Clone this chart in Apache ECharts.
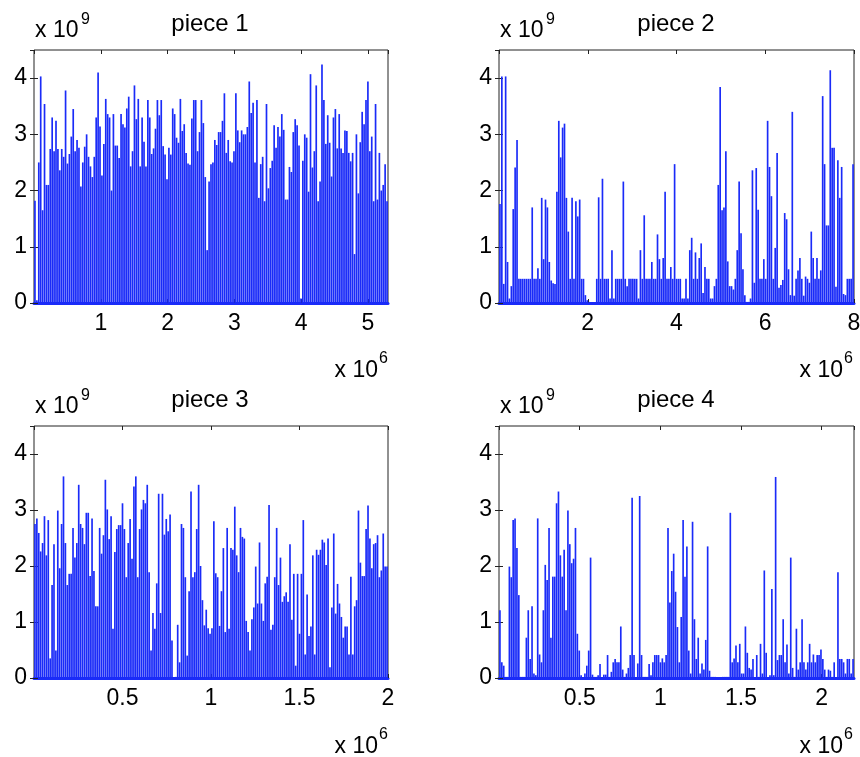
<!DOCTYPE html>
<html>
<head>
<meta charset="utf-8">
<script src="https://cdn.jsdelivr.net/npm/echarts@6/dist/echarts.min.js"></script>
<style>
html, body { margin: 0; padding: 0; background: #fff; }
#main { width: 860px; height: 757px; }
</style>
</head>
<body>
<div id="main"></div>
<script>
// bin heights, units of 1e9 (one entry per bin, read left to right)
var piece1 = [1.82, 0.05, 2.5, 4.03, 1.65, 3.54, 2.1, 2.1, 2.74, 3.3, 2.7, 3.24, 2.74, 2.36, 2.74, 2.6, 3.78, 2.48, 2.65, 2.96,
  3.45, 2.7, 2.9, 2.76, 2.07, 2.5, 2.78, 3.0, 2.6, 2.43, 2.24, 2.6, 3.3, 4.1, 3.14, 2.27, 2.83, 3.63, 3.36, 3.3,
  2.0, 3.36, 2.8, 2.8, 2.58, 3.36, 3.18, 3.12, 3.46, 3.67, 2.43, 2.7, 3.87, 3.27, 3.63, 2.43, 3.3, 2.87, 2.43, 3.61,
  3.3, 2.65, 2.75, 3.1, 3.61, 3.34, 3.61, 2.79, 2.64, 2.2, 2.76, 2.64, 3.46, 3.36, 2.94, 2.85, 3.63, 3.06, 3.18, 2.67,
  2.48, 2.46, 3.28, 3.61, 3.61, 2.7, 3.04, 3.61, 3.2, 2.24, 0.94, 2.16, 2.47, 2.5, 2.9,
  2.81, 3.04, 3.04, 3.24, 3.73, 2.67, 2.9, 2.52, 2.5, 2.7, 3.73, 3.07, 2.86, 3.07, 3.0, 3.0, 3.13, 3.94, 3.38, 3.56,
  2.5, 3.61, 1.87, 2.47, 2.6, 1.81, 3.54, 2.04, 2.4, 2.53, 3.16, 2.76, 3.13, 2.96, 3.36, 3.08, 1.84, 1.84, 2.42, 2.33,
  3.04, 3.27, 3.16, 2.8, 0.08, 2.53, 3.0, 2.94, 1.98, 4.07, 2.41, 2.7, 3.87, 1.81, 2.16, 4.24, 3.61, 2.83, 3.34, 2.85,
  2.25, 3.3, 3.45, 2.75, 3.36, 2.75, 2.67, 3.07, 3.06, 2.67, 2.52, 2.67, 0.87, 3.0, 1.95, 2.86, 3.4, 3.18, 3.61, 3.94,
  2.7, 2.96, 1.81, 3.54, 1.84, 2.67, 2.0, 2.1, 2.47, 1.81];

var piece2 = [1.76, 4.03, 0.34, 4.03, 0.73, 0.08, 0.3, 1.67, 2.41, 2.9, 0.43, 0.43, 0.43, 0.43, 0.43, 0.43, 0.43, 1.7, 0.43, 0.43,
  0.62, 0.43, 1.87, 0.78, 1.84, 1.7, 0.73, 0.4, 0.35, 0.34, 1.98, 3.24, 2.59, 3.12, 3.19, 1.87, 1.27, 0.43, 1.87, 0.43,
  1.81, 1.54, 1.84, 0.43, 0.43, 0.14, 0.05, 0.02, 0.02, 0.02, 0.02, 0.43, 1.88, 0.43, 2.21, 0.43, 0.43, 0.43, 0.08, 0.94,
  0.08, 0.43, 0.43, 0.43, 0.43, 2.16, 0.43, 0.3, 0.43, 0.43, 0.43, 0.43, 0.43, 0.08, 0.94, 0.43, 1.56, 0.43, 0.43, 0.43,
  0.73, 0.43, 0.43, 1.22, 0.78, 0.43, 0.8, 1.98, 0.43, 0.43, 0.64, 0.43, 2.47, 0.43,
  0.43, 0.43, 0.08, 0.08, 0.43, 0.08, 0.94, 1.16, 0.43, 0.9, 0.43, 0.8, 1.06, 0.18, 0.64, 0.43, 0.43, 0.08, 0.08, 0.3,
  0.43, 2.1, 3.84, 1.65, 1.7, 2.7, 0.74, 0.3, 0.3, 0.24, 0.43, 0.94, 2.16, 1.24, 0.6, 0.14, 0.02, 0.02, 0.08, 2.36,
  0.36, 2.4, 1.66, 0.43, 0.43, 0.78, 0.43, 3.24, 2.42, 1.9, 0.43, 0.98, 2.67, 0.27, 0.32, 0.41, 1.6, 1.49, 0.6, 0.14,
  3.4, 0.13, 0.43, 0.58, 0.8, 0.43, 0.13, 0.47, 0.43, 0.36, 1.27, 0.8, 0.43, 0.8, 0.43, 0.58, 3.68, 2.47, 1.38, 1.38,
  4.14, 2.76, 2.76, 0.29, 2.54, 1.87, 2.42, 0.16, 0.14, 0.43, 0.43, 0.43, 2.47];

var piece3 = [2.75, 2.85, 2.59, 2.26, 2.41, 2.89, 2.19, 2.82, 0.35, 1.66, 2.39, 0.49, 2.99, 1.96, 2.75, 3.6, 2.41, 1.66, 1.86, 1.86,
  2.68, 2.15, 2.41, 3.45, 2.75, 2.68, 2.39, 2.95, 2.95, 1.82, 2.85, 1.91, 1.28, 1.28, 2.68, 2.22, 2.55, 3.54, 3.01, 2.48,
  2.89, 0.88, 2.25, 2.66, 2.73, 2.73, 3.12, 2.66, 1.8, 2.41, 2.84, 2.13, 3.42, 3.6, 1.8, 2.66, 3.01, 3.18, 3.12, 3.45,
  1.89, 0.49, 1.16, 0.88, 1.69, 3.29, 1.16, 3.29, 2.56, 2.84, 2.62, 2.92, 0.67, 0.02, 0.02, 0.95, 0.28, 2.75, 2.68, 1.8,
  0.4, 1.55, 3.33, 1.8, 1.89, 2.66, 3.45, 2.0, 1.39, 0.94, 1.22, 0.89, 0.79, 0.89,
  2.8, 1.87, 1.8, 0.93, 1.55, 2.32, 0.82, 2.68, 0.88, 2.32, 2.29, 3.06, 2.19, 1.89, 2.68, 2.52, 2.49, 1.02, 0.82, 0.49,
  1.05, 1.26, 1.99, 1.33, 2.42, 1.33, 1.02, 1.69, 1.81, 3.09, 0.86, 0.95, 1.8, 2.68, 1.66, 2.15, 1.36, 1.46, 1.53, 1.36,
  2.39, 1.04, 1.86, 0.22, 1.86, 0.79, 1.86, 2.82, 0.42, 1.49, 0.75, 0.92, 2.19, 0.42, 2.29, 2.2, 2.29, 2.47, 2.42, 2.02,
  2.49, 0.19, 1.26, 2.58, 1.15, 1.68, 1.33, 1.09, 0.72, 0.92, 0.92, 0.42, 1.81, 0.42, 1.28, 1.39, 2.99, 2.06, 1.82, 1.82,
  2.66, 3.08, 2.49, 1.96, 2.39, 2.41, 2.55, 1.8, 1.92, 2.58, 1.99, 1.99];

var piece4 = [1.21, 0.28, 0.22, 0.02, 0.02, 1.99, 1.8, 2.82, 2.85, 2.32, 1.48, 0.02, 0.02, 0.02, 0.72, 1.21, 0.34, 1.28, 0.08, 0.05,
  2.85, 0.42, 0.28, 1.21, 2.02, 1.75, 2.68, 0.72, 1.81, 1.81, 3.12, 3.33, 2.19, 1.81, 2.29, 1.21, 2.99, 2.39, 2.05, 2.13,
  2.68, 0.79, 0.49, 0.05, 0.02, 0.08, 0.22, 0.49, 2.15, 0.06, 0.02, 0.02, 0.05, 0.25, 0.02, 0.06, 0.06, 0.41, 0.02, 0.11,
  0.28, 0.34, 0.28, 0.28, 0.92, 0.15, 0.02, 0.08, 0.18, 0.41, 3.22, 0.41, 0.02, 0.26, 3.25, 0.41, 0.02, 0.02, 0.02, 0.25,
  0.05, 0.28, 0.41, 0.41, 0.41, 0.28, 0.35, 0.28, 0.41, 2.68, 1.35, 1.91, 2.22, 1.54, 0.91,
  0.28, 1.09, 2.82, 1.81, 2.35, 0.49, 0.08, 2.79, 1.05, 0.34, 0.72, 0.08, 0.26, 0.15, 0.68, 2.35, 0.13, 0.02, 0.02, 0.02,
  0.02, 0.02, 0.02, 0.02, 0.02, 0.02, 0.02, 2.95, 0.28, 0.35, 0.58, 0.28, 0.61, 0.08, 0.08, 0.92, 0.45, 0.18, 0.15, 0.34,
  0.02, 0.41, 0.02, 0.61, 0.08, 1.92, 0.45, 0.02, 0.05, 1.59, 0.05, 3.59, 0.32, 0.41, 0.41, 1.05, 0.28, 0.6, 0.08, 2.15,
  0.18, 0.02, 0.88, 0.15, 0.28, 1.05, 0.28, 0.15, 0.28, 0.61, 0.28, 0.42, 0.28, 0.41, 0.41, 0.51, 0.34, 0.15, 0.02, 0.15,
  0.13, 0.02, 0.28, 0.02, 1.89, 0.34, 0.34, 0.28, 0.08, 0.34, 0.34, 0.08, 0.34];

var titles = ['piece 1', 'piece 2', 'piece 3', 'piece 4'];
// x range in units of 1e6 and the tick step
var xMax = [5.3, 8, 2, 2.2];
var xStep = [1, 2, 0.5, 0.5];
var yMax = 4.5;
var yStep = 1;

var pieces = [piece1, piece2, piece3, piece4];
var font = '"Liberation Sans", Arial, Helvetica, sans-serif';
var blue = '#1a2bf8';

var grids = [
  { left: 34, top: 50, width: 354, height: 253 },
  { left: 499, top: 50, width: 355, height: 253 },
  { left: 34, top: 426, width: 354, height: 252 },
  { left: 499, top: 426, width: 355, height: 252 }
];
// text offsets of each panel relative to the first one
var dx = [0, 465, 0, 465];
var dy = [0, 0, 376, 376];

var xAxes = [], yAxes = [], series = [], texts = [];
var tick = { inside: true, length: 4, lineStyle: { color: '#222' } };

pieces.forEach(function (vals, i) {
  grids[i].show = true;
  grids[i].borderColor = '#222';
  grids[i].borderWidth = 1;
  grids[i].backgroundColor = 'transparent';
  grids[i].outerBoundsMode = 'none';

  xAxes.push({
    type: 'category', gridIndex: i, data: vals.map(function (v, k) { return k; }),
    axisLabel: { show: false }, axisTick: { show: false }, splitLine: { show: false },
    axisLine: { show: true, lineStyle: { color: blue, width: 3 } }
  });
  xAxes.push({
    type: 'value', gridIndex: i, position: 'bottom', min: 0, max: xMax[i], interval: xStep[i],
    axisLine: { show: false }, axisTick: tick, splitLine: { show: false },
    axisLabel: {
      margin: 9, fontSize: 23, color: '#000', fontFamily: font,
      showMinLabel: false, showMaxLabel: Math.abs(xMax[i] / xStep[i] - Math.round(xMax[i] / xStep[i])) < 1e-6
    }
  });
  xAxes.push({
    type: 'value', gridIndex: i, position: 'top', min: 0, max: xMax[i], interval: xStep[i],
    axisLine: { show: false }, axisTick: tick, axisLabel: { show: false }, splitLine: { show: false }
  });

  yAxes.push({
    type: 'value', gridIndex: i, position: 'left', min: 0, max: yMax, interval: yStep,
    axisLine: { show: false }, axisTick: tick, splitLine: { show: false },
    axisLabel: { margin: 7, fontSize: 23, color: '#000', fontFamily: font, showMaxLabel: false }
  });
  yAxes.push({
    type: 'value', gridIndex: i, position: 'right', min: 0, max: yMax, interval: yStep,
    axisLine: { show: false }, axisTick: tick, axisLabel: { show: false }, splitLine: { show: false }
  });

  series.push({
    type: 'bar', xAxisIndex: 3 * i, yAxisIndex: 2 * i, data: vals,
    barCategoryGap: '12%', itemStyle: { color: blue }, silent: true
  });

  texts.push(txt(35 + dx[i], 31 + dy[i], 'x 10', 23, 'left'));
  texts.push(txt(81 + dx[i], 20 + dy[i], '9', 16, 'left'));
  texts.push(txt((i % 2 ? 676 : 210), 24 + dy[i], titles[i], 24, 'center'));
  texts.push(txt(378 + dx[i], 371 + dy[i], 'x 10', 23, 'right'));
  texts.push(txt(379 + dx[i], 359 + dy[i], '6', 16, 'left'));
});

function txt(x, y, s, size, align) {
  return {
    type: 'text', x: x, y: y, silent: true,
    style: {
      text: s, fontSize: size, fontFamily: font, fill: '#000',
      align: align, verticalAlign: 'middle', textAlign: align, textVerticalAlign: 'middle'
    }
  };
}

var chart = echarts.init(document.getElementById('main'));
chart.setOption({
  animation: false,
  grid: grids,
  xAxis: xAxes,
  yAxis: yAxes,
  series: series,
  graphic: texts
});
</script>
</body>
</html>
